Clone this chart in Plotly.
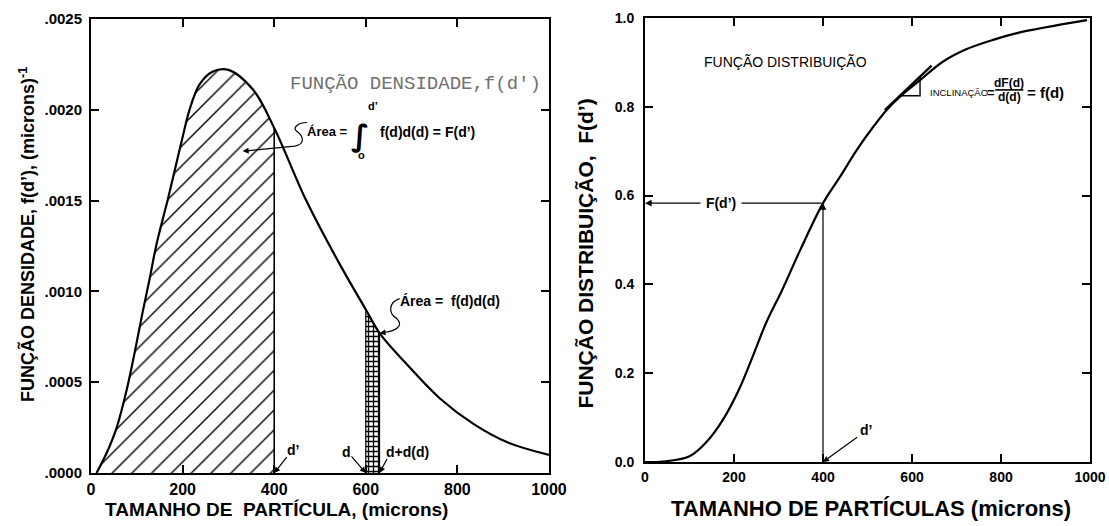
import plotly.graph_objects as go

# ---------------- data ----------------
dens_d = [12, 34, 56, 78, 95, 113, 128, 143, 168, 183, 200, 215, 237, 265, 300,
          354, 400, 470, 543, 600, 630, 689, 762, 835, 908, 1000]
dens_f = [0.0, 0.00011, 0.00025, 0.00046, 0.00066, 0.00089, 0.00107, 0.00126,
          0.00151, 0.00167, 0.00185, 0.00200, 0.00214, 0.00221, 0.00222,
          0.00211, 0.00190, 0.00150, 0.00115, 0.00090, 0.00077, 0.00060,
          0.00041, 0.00027, 0.00017, 0.00010]

dist_d = [0, 40, 100, 138, 175, 212, 241, 272, 308, 350, 400, 440, 476, 513,
          543, 573, 618, 670, 723, 780, 836, 993]
dist_F = [0.0, 0.001, 0.013, 0.045, 0.095, 0.165, 0.235, 0.313, 0.387, 0.48,
          0.583, 0.645, 0.703, 0.755, 0.793, 0.823, 0.860, 0.902, 0.930, 0.950,
          0.966, 0.995]

d_prime = 400
d_strip = [600, 630]

x_ticks = [0, 200, 400, 600, 800, 1000]
x_ticklabels = ["0", "200", "400", "600", "800", "1000"]
left_yticks = [0.0, 0.0005, 0.0010, 0.0015, 0.0020, 0.0025]
left_yticklabels = [".0000", ".0005", ".0010", ".0015", ".0020", ".0025"]
right_yticks = [0.0, 0.2, 0.4, 0.6, 0.8, 1.0]
right_yticklabels = ["0.0", "0.2", "0.4", "0.6", "0.8", "1.0"]

FONT = "Liberation Sans, Arial, sans-serif"
MONO = "Liberation Mono, Courier New, monospace"

fig = go.Figure()

# ---------------- left: density ----------------
i_dp = dens_d.index(d_prime)
fig.add_trace(go.Scatter(
    x=dens_d[:i_dp + 1], y=dens_f[:i_dp + 1], mode="lines",
    line=dict(width=0, shape="spline", color="black"),
    fill="tozeroy", fillcolor="white",
    fillpattern=dict(shape="/", size=14, solidity=0.1, fgopacity=1,
                     fgcolor="black", bgcolor="white"),
    xaxis="x", yaxis="y", hoverinfo="skip", showlegend=False))

i0 = dens_d.index(d_strip[0])
i1 = dens_d.index(d_strip[1])
fig.add_trace(go.Scatter(
    x=[d_strip[0], d_strip[0], d_strip[1], d_strip[1]],
    y=[0, dens_f[i0], dens_f[i1], 0], mode="lines",
    line=dict(width=1.2, color="black"),
    fill="toself", fillcolor="white",
    fillpattern=dict(shape="+", size=5, solidity=0.45, fgopacity=1,
                     fgcolor="black", bgcolor="white"),
    xaxis="x", yaxis="y", hoverinfo="skip", showlegend=False))

fig.add_trace(go.Scatter(
    x=dens_d, y=dens_f, mode="lines",
    line=dict(width=2.2, shape="spline", color="black"),
    xaxis="x", yaxis="y", showlegend=False))

# ---------------- right: distribution ----------------
fig.add_trace(go.Scatter(
    x=dist_d, y=dist_F, mode="lines",
    line=dict(width=2.2, shape="spline", color="black"),
    xaxis="x2", yaxis="y2", showlegend=False))

F_dp = dist_F[dist_d.index(d_prime)]
f_dp = dens_f[i_dp]

shapes = []
shapes.append(dict(type="line", xref="x", yref="y", x0=d_prime, x1=d_prime,
                   y0=0, y1=f_dp, line=dict(color="black", width=1.6)))
shapes.append(dict(type="path", xref="x", yref="y",
                   path="M 472,0.00193 C 452,0.00193 438,0.00190 450,0.00188 "
                        "C 466,0.00185 466,0.00181 445,0.00180 L 345,0.001775",
                   line=dict(color="black", width=1.2)))
shapes.append(dict(type="path", xref="x", yref="y",
                   path="M 674,0.00096 C 650,0.00094 648,0.00088 668,0.00085 "
                        "C 684,0.00081 664,0.00078 642,0.000775",
                   line=dict(color="black", width=1.2)))

# tangent segment and slope triangle
t_d = 573
t_F = 0.825
t_s = 0.00095
shapes.append(dict(type="line", xref="x2", yref="y2",
                   x0=t_d - 34, y0=t_F - 34 * t_s, x1=t_d + 71, y1=t_F + 71 * t_s,
                   line=dict(color="black", width=2.4)))
shapes.append(dict(type="path", xref="x2", yref="y2",
                   path=f"M {t_d},{t_F} L {t_d + 45},{t_F} L {t_d + 45},{t_F + 45 * t_s}",
                   line=dict(color="black", width=1.4)))
shapes.append(dict(type="line", xref="x2", yref="y2", x0=787, x1=850,
                   y0=0.838, y1=0.838, line=dict(color="black", width=1.6)))

ann = []
def txt(x, y, t, size=14, ref="", bold=True, family=FONT, color="black",
        xanchor="center", bg=None):
    d = dict(x=x, y=y, xref="x" + ref, yref="y" + ref, text=t, showarrow=False,
             xanchor=xanchor, yanchor="middle",
             font=dict(family=family, size=size, color=color,
                       weight="bold" if bold else "normal"))
    if bg:
        d["bgcolor"] = bg
    ann.append(d)

def arrow(x, y, ax, ay, ref="", head=2, size=1.0, width=1.2):
    ann.append(dict(x=x, y=y, ax=ax, ay=ay, xref="x" + ref, yref="y" + ref,
                    axref="x" + ref, ayref="y" + ref, text="", showarrow=True,
                    arrowhead=head, arrowsize=size, arrowwidth=width,
                    arrowcolor="black"))

# left plot annotations
txt(430, 0.00214, "FUNÇÃO DENSIDADE,f(d')", size=19, bold=False, family=MONO,
    color="#707070", xanchor="left")
txt(565, 0.00188, "Área =", size=13, xanchor="right")
txt(588, 0.00186, "∫", size=30, bold=True, family="DejaVu Sans")
txt(616, 0.00202, "d’", size=11)
txt(590, 0.00175, "o", size=11)
txt(626, 0.00188, "f(d)d(d) = F(d’)", size=14, xanchor="left")
arrow(331, 0.001773, 350, 0.001776)

txt(670, 0.000945, "Área =  f(d)d(d)", size=14, xanchor="left")
arrow(630, 0.00077, 645, 0.000775)

txt(442, 0.000125, "d’", size=14)
arrow(d_prime, 0, 430, 0.000095)
txt(557, 0.000115, "d", size=14)
arrow(d_strip[0], 0, 566, 0.00010)
txt(690, 0.000115, "d+d(d)", size=14)
arrow(d_strip[1], 0, 648, 0.000085)

# right plot annotations
txt(315, 0.90, "FUNÇÃO DISTRIBUIÇÃO", size=14, ref="2", bold=False)
txt(636, 0.833, "INCLINAÇÃO", size=9.5, ref="2", bold=False, xanchor="left")
txt(777, 0.833, "=", size=13, ref="2")
txt(818, 0.853, "dF(d)", size=12, ref="2")
txt(818, 0.822, "d(d)", size=12, ref="2")
txt(854, 0.833, "= f(d)", size=15, ref="2", xanchor="left")

arrow(d_prime, F_dp, d_prime, 0, ref="2", head=2, size=1.1)
arrow(0, F_dp, d_prime, F_dp, ref="2", head=2, size=1.1)
txt(170, F_dp, " F(d’) ", size=14, ref="2", bg="white")
txt(497, 0.072, "d’", size=14, ref="2")
arrow(d_prime, 0, 480, 0.058, ref="2")

def ptxt(x, y, t, size, angle=0):
    ann.append(dict(x=x, y=y, xref="paper", yref="paper", text=t,
                    showarrow=False, textangle=angle,
                    xanchor="center", yanchor="middle",
                    font=dict(family=FONT, size=size, color="black",
                              weight="bold")))

ptxt(0.0243, 0.555, "FUNÇÃO DENSIDADE, f(d’), (microns)<sup>-1</sup>", 18, -90)
ptxt(0.2495, 0.032, "TAMANHO DE  PARTÍCULA, (microns)", 19)
ptxt(0.528, 0.517, "FUNÇÃO DISTRIBUIÇÃO,  F(d’)", 21, -90)
ptxt(0.785, 0.034, "TAMANHO DE PARTÍCULAS (microns)", 22)

def axis(size, standoff=2):
    return dict(ticks="inside", ticklen=8, tickwidth=1.5, tickcolor="black",
                showline=True, linewidth=2, linecolor="black", mirror="ticks",
                showgrid=False, zeroline=False, automargin=False,
                ticklabelstandoff=standoff,
                tickfont=dict(family=FONT, size=size, color="black",
                              weight="bold"))

fig.update_layout(
    width=1109, height=526,
    margin=dict(l=0, r=0, t=0, b=0, pad=0, autoexpand=False),
    paper_bgcolor="white", plot_bgcolor="white", showlegend=False,
    xaxis=dict(domain=[0.0821, 0.495], range=[0, 1000], tickvals=x_ticks,
               ticktext=x_ticklabels, anchor="y", **axis(16, 1)),
    yaxis=dict(domain=[0.1008, 0.9639], range=[0, 0.0025],
               tickvals=left_yticks, ticktext=left_yticklabels, anchor="x",
               **axis(15, 4)),
    xaxis2=dict(domain=[0.5816, 0.9829], range=[0, 1000], tickvals=x_ticks,
                ticktext=x_ticklabels, anchor="y2", **axis(14, 1)),
    yaxis2=dict(domain=[0.1217, 0.9658], range=[0, 1.0],
                tickvals=right_yticks, ticktext=right_yticklabels, anchor="x2",
                **axis(14, 6)),
    shapes=shapes, annotations=ann,
)

fig.write_html("out.html", config={"displayModeBar": False},
               post_script="document.body.style.margin='0';")
